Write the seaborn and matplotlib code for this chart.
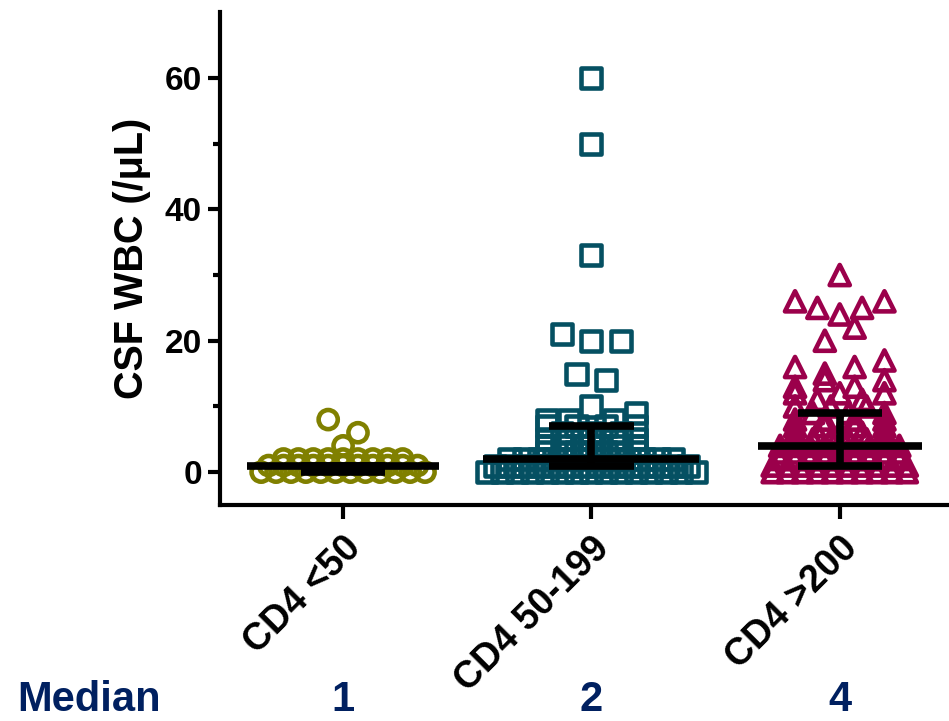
import numpy as np
import pandas as pd
import matplotlib
matplotlib.use("Agg")
import matplotlib.pyplot as plt
import matplotlib.transforms as mtransforms
from matplotlib.markers import MarkerStyle
import seaborn as sns

# ---------------- data ----------------
categories = ["CD4 <50", "CD4 50-199", "CD4 >200"]

cd4_lt50 = [8, 6, 4,
            2, 2, 2, 2, 2, 2, 2, 2, 2,
            1, 1, 1, 1, 1, 1, 1, 1, 1, 1, 1,
            0, 0, 0, 0, 0, 0, 0, 0, 0, 0, 0, 0]

cd4_50_199 = [60, 50, 33, 21, 20, 20, 15, 14, 8, 8, 10, 8, 9,
              7, 7, 7, 7, 6, 6, 6,
              5, 5, 5, 5, 5,
              4, 4, 4, 4, 4, 4,
              3, 3, 3, 3, 3, 3, 3,
              2, 2, 2, 2, 2, 2, 2, 2, 2, 2, 2, 2,
              1, 1, 1, 1, 1, 1, 1, 1, 1, 1, 1, 1, 1, 1,
              0, 0, 0, 0, 0, 0, 0, 0, 0, 0, 0, 0, 0, 0, 0]

cd4_gt200 = [30, 26, 25, 24, 25, 26, 20, 22, 16, 15, 16, 17,
             13, 14, 13, 14, 12, 11, 12, 11, 12,
             10, 9, 10, 9, 10, 9, 8, 8, 8, 8,
             7, 7, 7, 7, 6, 6, 6, 6, 6,
             5, 5, 5, 5, 5, 5,
             4, 4, 4, 4, 4, 4, 4, 4, 4,
             3, 3, 3, 3, 3, 3, 3, 3, 3,
             2, 2, 2, 2, 2, 2, 2, 2, 2,
             1, 1, 1, 1, 1, 1, 1, 1, 1, 1,
             0, 0, 0, 0, 0, 0, 0, 0, 0, 0]

medians = [1, 2, 4]
q1 = [0, 1, 1]
q3 = [1, 7, 9]
median_labels = ["1", "2", "4"]

# ---------------- style ----------------
colors = ["#808000", "#055062", "#9b004b"]
markers = ["o", "s", "^"]
marker_sizes = [190, 210, 210]
median_halfwidth = [0.385, 0.435, 0.33]
iqr_halfwidth = 0.17
min_step = 0.06      # tightest spacing of side-by-side points (data units)
max_step = 0.12      # widest spacing
row_span = 0.36      # preferred span of a loose row
bin_height = 2.5     # values closer than this share a row when sparse
bin_max = 6
navy = "#002060"

sns.set_theme(style="ticks")
plt.rcParams["font.family"] = ["Liberation Sans", "DejaVu Sans"]
plt.rcParams["font.weight"] = "bold"
plt.rcParams["axes.labelweight"] = "bold"
for key in ["text.color", "axes.labelcolor", "xtick.color", "ytick.color", "axes.edgecolor"]:
    plt.rcParams[key] = "black"


def prism_offsets(values):
    """Prism-like scatter layout: sparse nearby values share a row,
    each row is spread side by side around the category centre."""
    vals = np.asarray(values, dtype=float)
    off = np.zeros_like(vals)
    uniq = sorted(np.unique(vals), reverse=True)
    counts = {v: int(np.sum(vals == v)) for v in uniq}
    bins, cur, top = [], [], None
    for v in uniq:
        if cur and (top - v) < bin_height and sum(counts[u] for u in cur) + counts[v] <= bin_max:
            cur.append(v)
        else:
            if cur:
                bins.append(cur)
            cur, top = [v], v
    bins.append(cur)
    for b in bins:
        idx = np.where(np.isin(vals, b))[0]
        n = len(idx)
        if n == 1:
            continue
        step = min(max_step, max(min_step, row_span / (n - 1)))
        off[idx] = (np.arange(n) - (n - 1) / 2.0) * step
    return off


groups = [cd4_lt50, cd4_50_199, cd4_gt200]
frames = []
for i, (cat, vals) in enumerate(zip(categories, groups)):
    frames.append(pd.DataFrame({
        "group": cat,
        "value": vals,
        "xpos": i + prism_offsets(vals),
    }))
df = pd.concat(frames, ignore_index=True)

fig = plt.figure(figsize=(9.49, 7.21), dpi=100)
ax = fig.add_axes([0.232, 0.2996, 0.768, 0.6834])

for i, cat in enumerate(categories):
    sub = df[df["group"] == cat]
    sns.scatterplot(data=sub, x="xpos", y="value", ax=ax,
                    marker=MarkerStyle(markers[i], joinstyle="round"),
                    s=marker_sizes[i], color=colors[i], edgecolor=colors[i],
                    facecolor="none", linewidth=3.3, legend=False, zorder=2)

xs = np.arange(len(categories))
hw = np.array(median_halfwidth)
ax.hlines(medians, xs - hw, xs + hw, color="black", linewidth=5.5, zorder=5)
ax.hlines(q1, xs - iqr_halfwidth, xs + iqr_halfwidth, color="black", linewidth=5.5, zorder=5)
ax.hlines(q3, xs - iqr_halfwidth, xs + iqr_halfwidth, color="black", linewidth=5.5, zorder=5)
ax.vlines(xs, q1, q3, color="black", linewidth=5.5, zorder=5)

ax.set_xlim(-0.495, 2.44)
ax.set_ylim(-5, 70)
ax.set_yticks([0, 20, 40, 60])
ax.set_yticks([10, 30, 50], minor=True)
ax.set_xticks(xs)
ax.set_xticklabels(categories)
ax.set_xlabel("")
ax.set_ylabel("CSF WBC (/\u03bcL)", fontsize=28.5, fontweight="bold", labelpad=10,
              color="black")

for side in ["top", "right"]:
    ax.spines[side].set_visible(False)
for side in ["left", "bottom"]:
    ax.spines[side].set_linewidth(3)
    ax.spines[side].set_color("black")

ax.tick_params(axis="y", which="major", length=9, width=3, labelsize=24, pad=4,
               color="black", labelcolor="black")
ax.tick_params(axis="y", which="minor", length=5, width=3, color="black")
ax.tick_params(axis="x", which="major", length=10, width=3, labelsize=27, pad=8,
               color="black", labelcolor="black")

for lab in ax.get_xticklabels():
    lab.set_rotation(45)
    lab.set_ha("right")
    lab.set_va("top")
    lab.set_rotation_mode("anchor")
    lab.set_fontweight("bold")
for lab in ax.get_yticklabels():
    lab.set_fontweight("bold")

# Median row
fig.text(17 / 949, 0.001, "Median", fontsize=30, fontweight="bold",
         color=navy, ha="left", va="bottom")
trans = mtransforms.blended_transform_factory(ax.transData, fig.transFigure)
for i, txt in enumerate(median_labels):
    ax.text(xs[i], 0.001, txt, transform=trans, fontsize=30, fontweight="bold",
            color=navy, ha="center", va="bottom", clip_on=False)

fig.savefig("out.png", dpi=100)
